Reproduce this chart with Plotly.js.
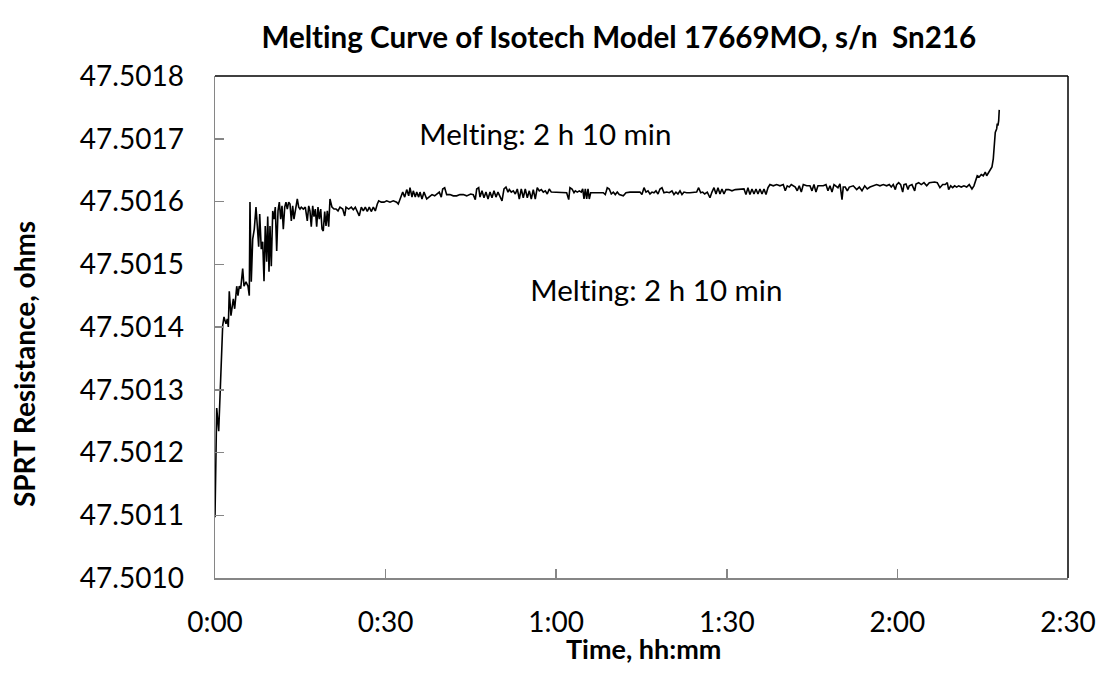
<!DOCTYPE html>
<html>
<head>
<meta charset="utf-8">
<script src="https://cdn.plot.ly/plotly-3.0.1.min.js"></script>
<style>
  html, body { margin: 0; padding: 0; background: #ffffff; }
  #chart { width: 1103px; height: 680px; }
  #chart text { font-variant-ligatures: none; font-feature-settings: "liga" 0, "clig" 0; }
</style>
</head>
<body>
<div id="chart"></div>
<script>
// Elapsed time since start of the melt, in minutes
const timeMin = [
  0, 0.30, 0.65, 1.35, 1.58, 1.93, 2.16, 2.34, 2.51, 2.81,
  3.22, 3.46, 3.82, 4.04, 4.27, 4.52, 4.87, 5.10, 5.45, 5.80,
  6.03, 6.15, 6.38, 6.63, 6.91, 7.21, 7.44, 7.68, 7.86, 8.14,
  8.39, 8.62, 8.84, 9.09, 9.27, 9.50, 9.67, 9.90, 10.15, 10.37,
  10.60, 10.85, 11.08, 11.31, 11.55, 11.78, 12.01, 12.26, 12.48, 12.71,
  12.96, 13.19, 13.42, 13.66, 13.89, 14.12, 14.47, 14.72, 14.95, 15.18,
  15.53, 15.88, 16.23, 16.48, 16.70, 16.93, 17.18, 17.41, 17.64, 17.88,
  18.11, 18.34, 18.59, 18.82, 19.04, 19.29, 19.52, 19.75, 19.99, 20.22,
  20.57, 20.93, 21.28, 21.63, 21.98, 22.46, 22.81, 23.04, 23.51, 23.97,
  24.32, 24.67, 25.02, 25.37, 25.73, 26.08, 26.43, 26.78, 27.13, 27.48,
  27.84, 28.19, 28.54, 28.79, 29.24, 29.72, 30.19, 30.77, 31.35, 31.95,
  32.23, 32.65, 33.01, 33.36, 33.71, 34.06, 34.29, 34.64, 34.87, 35.22,
  35.47, 35.82, 36.05, 36.40, 36.75, 37.23, 37.81, 38.16, 38.63, 39.09,
  39.44, 39.79, 40.04, 40.39, 40.74, 41.32, 41.90, 42.50, 43.08, 43.66,
  44.26, 44.96, 45.42, 45.77, 46.02, 46.37, 46.60, 46.95, 47.30, 47.65,
  48.01, 48.36, 48.71, 49.06, 49.41, 49.76, 50.11, 50.47, 50.82, 51.17,
  51.52, 51.75, 52.10, 52.45, 52.81, 53.16, 53.51, 53.86, 54.21, 54.56,
  54.92, 55.27, 55.62, 55.97, 56.32, 56.67, 57.03, 57.38, 57.73, 58.08,
  58.43, 58.78, 59.14, 59.49, 60.09, 60.66, 61.25, 61.84, 62.20, 62.42,
  62.78, 63.13, 63.36, 63.71, 64.06, 64.41, 64.66, 64.89, 65.12, 65.36,
  65.59, 65.82, 66.06, 66.52, 67.12, 67.70, 68.28, 68.63, 68.98, 69.33,
  69.69, 70.04, 70.39, 70.74, 71.09, 71.80, 72.27, 72.97, 73.85, 74.73,
  75.08, 75.44, 75.79, 76.14, 76.49, 76.84, 77.19, 77.54, 77.90, 78.25,
  78.60, 78.95, 79.43, 79.89, 80.36, 80.71, 81.06, 81.41, 81.77, 82.12,
  82.47, 82.94, 83.52, 84.11, 84.70, 85.05, 85.41, 85.76, 86.11, 86.57,
  87.04, 87.39, 87.75, 88.10, 88.45, 88.80, 89.15, 89.50, 89.85, 90.33,
  90.91, 91.49, 92.09, 92.67, 93.02, 93.37, 93.72, 94.07, 94.43, 94.78,
  95.13, 95.48, 95.83, 96.19, 96.54, 96.89, 97.24, 97.59, 98.17, 98.77,
  99.35, 99.93, 100.28, 100.63, 100.99, 101.34, 101.69, 102.04, 102.39, 102.74,
  103.10, 103.45, 104.05, 104.62, 104.98, 105.33, 105.68, 106.03, 106.38, 106.97,
  107.44, 107.79, 108.14, 108.50, 108.85, 109.20, 109.55, 109.90, 110.26, 110.48,
  110.83, 111.19, 111.54, 112.24, 112.84, 113.30, 113.77, 114.25, 114.70, 115.18,
  115.76, 116.35, 116.93, 117.52, 118.11, 118.57, 118.92, 119.27, 119.63, 119.87,
  120.22, 120.57, 120.93, 121.16, 121.51, 121.86, 122.09, 122.56, 123.04, 123.27,
  123.74, 124.20, 124.67, 125.15, 125.61, 126.08, 126.55, 127.01, 127.48, 127.96,
  128.42, 128.77, 129.01, 129.37, 129.72, 130.07, 130.42, 130.77, 131.23, 131.70,
  132.18, 132.63, 133.11, 133.46, 133.81, 134.04, 134.39, 134.75, 135.10, 135.45,
  135.70, 136.05, 136.28, 136.63, 136.86, 137.11, 137.21, 137.46, 137.56, 137.68,
  137.81, 137.91
];

// SPRT resistance readings, ohms
const resistance = [
  47.501097, 47.501271, 47.501234, 47.501402, 47.501416, 47.501405, 47.501413, 47.501400, 47.501457, 47.501418,
  47.501445, 47.501429, 47.501465, 47.501450, 47.501465, 47.501461, 47.501493, 47.501465, 47.501472, 47.501465,
  47.501450, 47.501599, 47.501472, 47.501540, 47.501556, 47.501591, 47.501561, 47.501528, 47.501580, 47.501524,
  47.501536, 47.501473, 47.501561, 47.501504, 47.501576, 47.501488, 47.501561, 47.501497, 47.501585, 47.501572,
  47.501591, 47.501521, 47.501585, 47.501599, 47.501572, 47.501593, 47.501556, 47.501591, 47.501599, 47.501588,
  47.501599, 47.501596, 47.501569, 47.501593, 47.501572, 47.501585, 47.501604, 47.501591, 47.501588, 47.501591,
  47.501588, 47.501591, 47.501569, 47.501593, 47.501585, 47.501560, 47.501593, 47.501576, 47.501588, 47.501560,
  47.501591, 47.501572, 47.501588, 47.501556, 47.501553, 47.501584, 47.501561, 47.501585, 47.501560, 47.501604,
  47.501591, 47.501588, 47.501588, 47.501585, 47.501591, 47.501588, 47.501577, 47.501591, 47.501588, 47.501591,
  47.501587, 47.501591, 47.501585, 47.501577, 47.501591, 47.501585, 47.501591, 47.501584, 47.501591, 47.501584,
  47.501591, 47.501585, 47.501596, 47.501601, 47.501599, 47.501599, 47.501601, 47.501599, 47.501601, 47.501599,
  47.501596, 47.501607, 47.501615, 47.501607, 47.501619, 47.501609, 47.501622, 47.501607, 47.501617, 47.501607,
  47.501615, 47.501607, 47.501615, 47.501604, 47.501615, 47.501604, 47.501609, 47.501611, 47.501609, 47.501612,
  47.501615, 47.501607, 47.501620, 47.501622, 47.501611, 47.501611, 47.501609, 47.501609, 47.501611, 47.501611,
  47.501609, 47.501612, 47.501611, 47.501603, 47.501620, 47.501622, 47.501607, 47.501617, 47.501606, 47.501615,
  47.501604, 47.501615, 47.501606, 47.501617, 47.501607, 47.501615, 47.501609, 47.501601, 47.501620, 47.501623,
  47.501615, 47.501619, 47.501615, 47.501617, 47.501612, 47.501620, 47.501604, 47.501620, 47.501606, 47.501620,
  47.501606, 47.501617, 47.501604, 47.501619, 47.501604, 47.501622, 47.501617, 47.501619, 47.501615, 47.501617,
  47.501612, 47.501620, 47.501615, 47.501615, 47.501615, 47.501615, 47.501615, 47.501614, 47.501603, 47.501622,
  47.501620, 47.501614, 47.501617, 47.501615, 47.501617, 47.501615, 47.501620, 47.501604, 47.501620, 47.501604,
  47.501620, 47.501604, 47.501614, 47.501614, 47.501614, 47.501614, 47.501614, 47.501611, 47.501622, 47.501620,
  47.501612, 47.501615, 47.501611, 47.501615, 47.501611, 47.501609, 47.501614, 47.501615, 47.501615, 47.501615,
  47.501611, 47.501622, 47.501615, 47.501617, 47.501612, 47.501615, 47.501614, 47.501617, 47.501612, 47.501620,
  47.501622, 47.501614, 47.501615, 47.501614, 47.501617, 47.501611, 47.501615, 47.501612, 47.501617, 47.501611,
  47.501615, 47.501614, 47.501614, 47.501614, 47.501615, 47.501622, 47.501614, 47.501615, 47.501612, 47.501615,
  47.501606, 47.501615, 47.501622, 47.501612, 47.501622, 47.501612, 47.501620, 47.501612, 47.501619, 47.501619,
  47.501617, 47.501619, 47.501619, 47.501619, 47.501620, 47.501611, 47.501622, 47.501611, 47.501620, 47.501612,
  47.501620, 47.501612, 47.501620, 47.501612, 47.501620, 47.501611, 47.501622, 47.501627, 47.501625, 47.501627,
  47.501625, 47.501627, 47.501617, 47.501625, 47.501623, 47.501627, 47.501625, 47.501623, 47.501617, 47.501625,
  47.501615, 47.501627, 47.501625, 47.501625, 47.501617, 47.501627, 47.501615, 47.501625, 47.501625, 47.501625,
  47.501627, 47.501617, 47.501625, 47.501615, 47.501627, 47.501625, 47.501622, 47.501628, 47.501603, 47.501623,
  47.501623, 47.501617, 47.501623, 47.501625, 47.501619, 47.501623, 47.501617, 47.501625, 47.501620, 47.501623,
  47.501625, 47.501627, 47.501625, 47.501627, 47.501625, 47.501627, 47.501623, 47.501627, 47.501619, 47.501627,
  47.501630, 47.501627, 47.501615, 47.501627, 47.501628, 47.501619, 47.501625, 47.501627, 47.501617, 47.501628,
  47.501630, 47.501627, 47.501630, 47.501625, 47.501630, 47.501631, 47.501631, 47.501630, 47.501622, 47.501627,
  47.501627, 47.501630, 47.501619, 47.501625, 47.501622, 47.501625, 47.501623, 47.501625, 47.501623, 47.501625,
  47.501623, 47.501627, 47.501620, 47.501625, 47.501635, 47.501641, 47.501639, 47.501643, 47.501641, 47.501647,
  47.501641, 47.501647, 47.501649, 47.501655, 47.501668, 47.501695, 47.501710, 47.501716, 47.501724, 47.501721,
  47.501729, 47.501746
];

// Time axis labels (hh:mm) at half-hour marks
const timeTickVals = [0, 30, 60, 90, 120, 150];
const timeTickText = ['0:00', '0:30', '1:00', '1:30', '2:00', '2:30'];

const chartTitle = 'Melting Curve of Isotech Model 17669MO, s/n  Sn216';
const xTitle = 'Time, hh:mm';
const yTitle = 'SPRT Resistance, ohms';
const noteText = 'Melting: 2 h 10 min';

const FONT = 'Lato, "Open Sans", sans-serif';
const AXIS_GREY = '#868686';

const trace = {
  x: timeMin,
  y: resistance,
  type: 'scatter',
  mode: 'lines',
  line: { color: '#000000', width: 1.6 },
  hoverinfo: 'x+y'
};

const layout = {
  width: 1103,
  height: 680,
  margin: { l: 215, r: 35, t: 76, b: 102 },
  paper_bgcolor: '#ffffff',
  plot_bgcolor: '#ffffff',
  showlegend: false,
  font: { family: FONT, color: '#000000' },
  title: {
    text: '<b>' + chartTitle + '</b>',
    font: { family: FONT, size: 29.6, color: '#000000' },
    x: 0.561, xanchor: 'center', xref: 'container',
    y: 0.945, yanchor: 'middle', yref: 'container'
  },
  xaxis: {
    range: [0, 150],
    tickmode: 'array',
    tickvals: timeTickVals,
    ticktext: timeTickText,
    ticks: 'inside', ticklen: 9, tickwidth: 1.5, tickcolor: AXIS_GREY,
    showline: true, linecolor: AXIS_GREY, linewidth: 1.5,
    showgrid: false, zeroline: false,
    tickfont: { family: FONT, size: 28, color: '#000000' },
    ticklabelstandoff: 19
  },
  yaxis: {
    range: [47.5010, 47.5018],
    tick0: 47.5010, dtick: 0.0001,
    tickformat: '.4f',
    ticks: 'inside', ticklen: 9, tickwidth: 1.5, tickcolor: AXIS_GREY,
    showline: true, linecolor: AXIS_GREY, linewidth: 1.5,
    showgrid: false, zeroline: false,
    tickfont: { family: FONT, size: 28, color: '#000000' },
    ticklabelstandoff: 24
  },
  shapes: [
    // plot-area border on the top and right sides
    { type: 'line', xref: 'paper', yref: 'paper', x0: 0, x1: 1, y0: 1, y1: 1,
      line: { color: '#000000', width: 1.5 } },
    { type: 'line', xref: 'paper', yref: 'paper', x0: 1, x1: 1, y0: 0, y1: 1,
      line: { color: '#000000', width: 1.5 } }
  ],
  annotations: [
    { text: noteText, xref: 'paper', yref: 'paper', x: 0.388, y: 0.886,
      xanchor: 'center', yanchor: 'middle', showarrow: false,
      font: { family: FONT, size: 29.5, color: '#000000' } },
    { text: noteText, xref: 'paper', yref: 'paper', x: 0.518, y: 0.574,
      xanchor: 'center', yanchor: 'middle', showarrow: false,
      font: { family: FONT, size: 29.5, color: '#000000' } },
    { text: '<b>' + xTitle + '</b>', xref: 'paper', yref: 'paper', x: 0.502, y: -0.141,
      xanchor: 'center', yanchor: 'middle', showarrow: false,
      font: { family: FONT, size: 27, color: '#000000' } },
    { text: '<b>' + yTitle + '</b>', xref: 'paper', yref: 'paper', x: -0.224, y: 0.426,
      xanchor: 'center', yanchor: 'middle', showarrow: false, textangle: -90,
      font: { family: FONT, size: 28, color: '#000000' } }
  ]
};

Plotly.newPlot('chart', [trace], layout, { displayModeBar: false, staticPlot: true });
</script>
</body>
</html>
